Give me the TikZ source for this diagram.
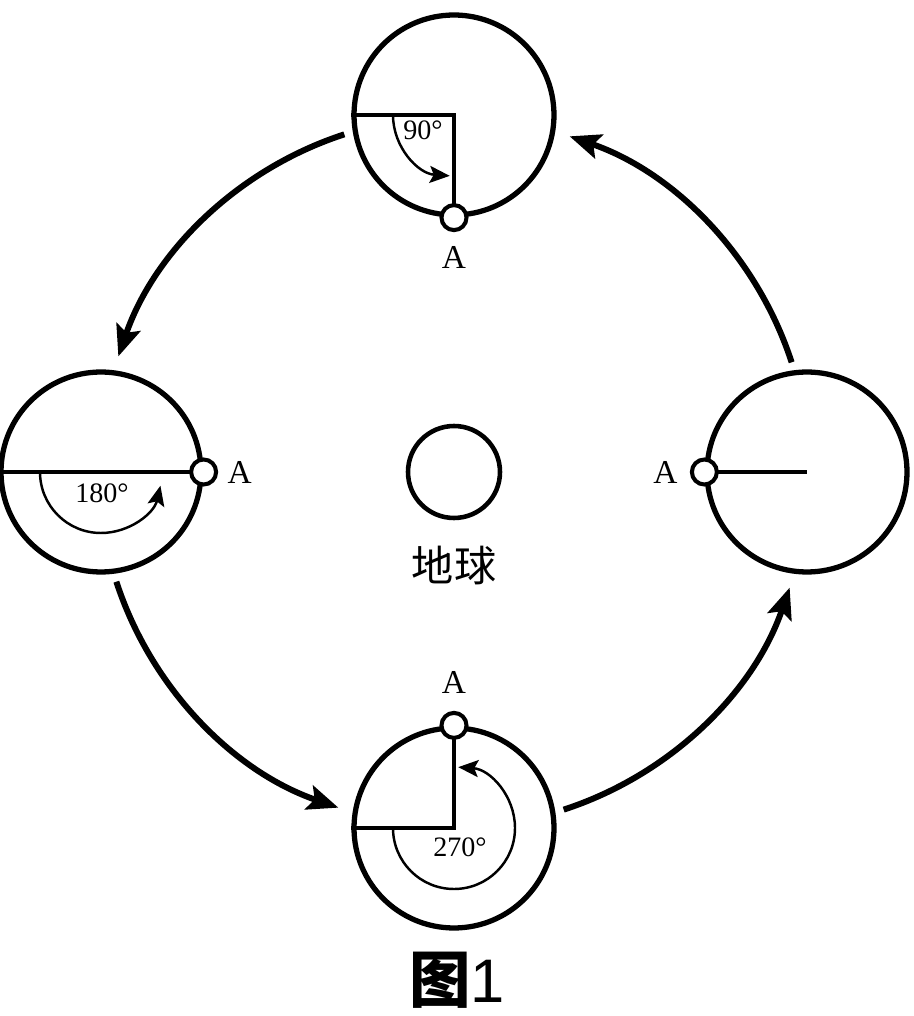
\documentclass[tikz,border=0pt]{standalone}
\usepackage{fontspec}
\setmainfont{Liberation Serif}
\newfontfamily\cjk{Noto Sans CJK SC}
\newfontfamily\sansf{Liberation Sans}
\usetikzlibrary{arrows.meta}
\tikzset{moon/.style={draw,circle,line width=3pt,
                      minimum size=4cm,inner sep=0pt}}
\tikzset{spot/.style={draw,circle,fill=white,line width=2.3pt,
                      minimum size=0.5cm,inner sep=0pt}}

\begin{document}
\begin{tikzpicture}[x=0.02cm,y=0.02cm,>={Stealth[length=0.62cm,width=0.5cm,inset=0.12cm]}]
	\tikzstyle{orbit}=[line width=3.4pt]
	\tikzstyle{arm}=[line width=2.5pt]
	\tikzstyle{turn}=[line width=1.4pt,-{Stealth[length=0.4cm,width=0.34cm,inset=0.08cm]}]
	\tikzstyle{lbl}=[font=\fontsize{19}{19}\selectfont,inner sep=0pt]
	\tikzstyle{deg}=[font=\fontsize{16}{16}\selectfont,inner sep=0pt]
    % fix the page to the size of the reference
    \useasboundingbox (-454,-544) rectangle (459,472);

    % Earth in the middle, the moon in four places round it
    \node (earth) [circle,draw,line width=2.6pt,minimum size=1.84cm,inner sep=0pt] at (0,0) {};
    \node (m_top)   [moon] at (0,357)  {};
    \node (m_left)  [moon] at (-353,0) {};
    \node (m_bot)   [moon] at (0,-356) {};
    \node (m_right) [moon] at (353,0)  {};

    % points A on the moon
    \draw[arm] (m_top.west) -- (m_top.center) -- (m_top.south);
    \draw[arm] (m_left.west) -- (m_left.east);
    \draw[arm] (m_bot.west) -- (m_bot.center) -- (m_bot.north);
    \draw[arm] (m_right.west) -- (m_right.center);
    \node (a_top)   [spot] at (m_top.south)  {};
    \node (a_left)  [spot] at (m_left.east)  {};
    \node (a_bot)   [spot] at (m_bot.north)  {};
    \node (a_right) [spot] at (m_right.west) {};

    \node [lbl] at ([yshift=-0.8cm]a_top)    {A};
    \node [lbl] at ([xshift=0.72cm]a_left)   {A};
    \node [lbl] at ([yshift=0.86cm]a_bot)    {A};
    \node [lbl] at ([xshift=-0.78cm]a_right) {A};

    % angles turned by the moon
    \draw[turn] ([shift={(180:61)}]m_top.center) arc[start angle=180,end angle=266,radius=61];
    \draw[turn] ([shift={(180:61)}]m_left.center) arc[start angle=180,end angle=347,radius=61];
    \draw[turn] ([shift={(180:61)}]m_bot.center) arc[start angle=180,end angle=446,radius=61];
    \node [deg] at ([shift={(-31,-15)}]m_top.center) {90°};
    \node [deg] at ([shift={(1,-21)}]m_left.center)  {180°};
    \node [deg] at ([shift={(6,-19)}]m_bot.center)   {270°};

    % orbit arrows round the earth
    \foreach \a in {18,108,198,288}
        \draw[orbit,->] ([shift={(\a:355)}]earth.center) arc[start angle=\a,end angle=\a+53,radius=355];

    \node (earth_lbl) [font=\cjk\fontsize{24}{24}\selectfont] at (0,-93) {地球};
    \node (caption) [font=\fontsize{35}{35}\selectfont] at (3,-508) {{\cjk\bfseries 图}{\sansf 1}};
\end{tikzpicture}
\end{document}
